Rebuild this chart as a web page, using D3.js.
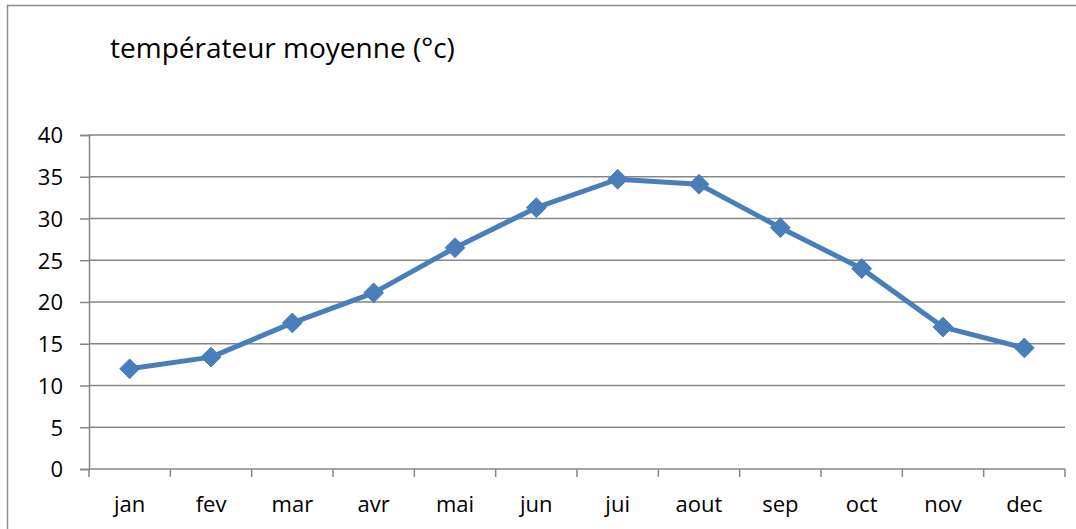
<!DOCTYPE html>
<html><head><meta charset="utf-8">
<script src="https://cdn.jsdelivr.net/npm/d3@7"></script>
<style>body{margin:0;background:#fff}svg{display:block}</style>
</head><body>
<svg id="c" width="1076" height="529"></svg>
<script>
const months = ["jan","fev","mar","avr","mai","jun","jui","aout","sep","oct","nov","dec"];
const temps = [12.0,13.4,17.5,21.1,26.5,31.3,34.7,34.1,28.9,24.0,17.0,14.5];
const yTicks = [0,5,10,15,20,25,30,35,40];
const title = "températeur moyenne (°c)";

const svg = d3.select("#c");
const font = "'Open Sans', 'Noto Sans', sans-serif";
const L = 89, R = 1065, T = 135, B = 469;
const grid = "#868686";

// outer border
svg.append("path").attr("d","M7.5,529 V5.5 H1076").attr("fill","none").attr("stroke","#8c8c8c").attr("stroke-width",1.5);

svg.append("text").attr("x",110).attr("y",58).attr("font-family",font).attr("font-size",28).attr("fill","#000").text(title);

const x = d3.scaleBand().domain(months).range([L,R]).padding(0);
const y = d3.scaleLinear().domain([0,40]).range([B,T]);

// gridlines
svg.append("g").selectAll("line").data(yTicks.filter(d=>d>0)).join("line")
  .attr("x1",L).attr("x2",R).attr("y1",d=>y(d)).attr("y2",d=>y(d))
  .attr("stroke",grid).attr("stroke-width",1.5);

// y axis
const ya = svg.append("g").attr("transform",`translate(${L},0)`)
  .call(d3.axisLeft(y).tickValues(yTicks).tickSize(9).tickPadding(8));
ya.select(".domain").attr("stroke",grid).attr("stroke-width",1.5);
ya.selectAll(".tick line").attr("stroke",grid).attr("stroke-width",1.5);
ya.selectAll("text").attr("font-family",font).attr("font-size",22).attr("fill","#000").attr("dx",-9).attr("dy","0.36em");

// x axis
const xa = svg.append("g").attr("transform",`translate(0,${B})`)
  .call(d3.axisBottom(x).tickSize(0).tickPadding(27));
xa.select(".domain").attr("stroke",grid).attr("stroke-width",1.5).attr("d",`M${L},0H${R}`);
xa.selectAll("text").attr("font-family",font).attr("font-size",22).attr("fill","#000");
svg.append("g").selectAll("line").data(d3.range(months.length+1)).join("line")
  .attr("x1",i=>L+i*x.step()).attr("x2",i=>L+i*x.step()).attr("y1",B).attr("y2",B+8)
  .attr("stroke",grid).attr("stroke-width",1.5);

const cx = d => x(d) + x.bandwidth()/2;
const data = months.map((m,i)=>({m,v:temps[i]}));
svg.append("path").datum(data)
  .attr("d",d3.line().x(d=>cx(d.m)).y(d=>y(d.v)))
  .attr("fill","none").attr("stroke","#4a7ebb").attr("stroke-width",5).attr("stroke-linejoin","round");
svg.append("g").selectAll("path").data(data).join("path")
  .attr("d",d3.symbol(d3.symbolDiamond2,250))
  .attr("transform",d=>`translate(${cx(d.m)},${y(d.v)})`)
  .attr("fill","#4a7ebb").attr("stroke","#4a7ebb").attr("stroke-width",1);
</script>
</body></html>
